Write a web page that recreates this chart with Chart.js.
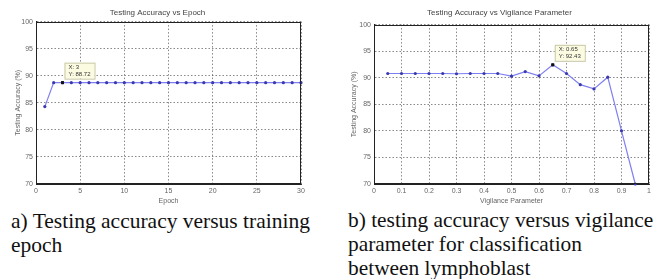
<!DOCTYPE html>
<html><head><meta charset="utf-8">
<script src="https://cdn.jsdelivr.net/npm/chart.js@4/dist/chart.umd.min.js"></script>
<style>
html,body{margin:0;padding:0;background:#fff;width:668px;height:279px;overflow:hidden;position:relative}
.c{position:absolute;top:0}
.cap{position:absolute;font-family:'Liberation Serif','DejaVu Serif',serif;line-height:24px;color:#111;white-space:nowrap}
</style></head><body>
<div class="c" style="left:0;width:334px;height:205px"><canvas id="a"></canvas></div>
<div class="c" style="left:334px;width:334px;height:205px"><canvas id="b"></canvas></div>
<div class="cap" style="left:11px;top:209px;font-size:21.5px">a) Testing accuracy versus training<br>epoch</div>
<div class="cap" style="left:348px;top:208px;font-size:21.4px">b) testing accuracy versus vigilance<br>parameter for classification<br>between lymphoblast</div>
<script>
const epochs = [1,2,3,4,5,6,7,8,9,10,11,12,13,14,15,16,17,18,19,20,21,22,23,24,25,26,27,28,29,30];
const epochAcc = [84.3,88.72,88.72,88.72,88.72,88.72,88.72,88.72,88.72,88.72,88.72,88.72,88.72,88.72,88.72,88.72,88.72,88.72,88.72,88.72,88.72,88.72,88.72,88.72,88.72,88.72,88.72,88.72,88.72,88.72];
const vigilance = [0.05,0.1,0.15,0.2,0.25,0.3,0.35,0.4,0.45,0.5,0.55,0.6,0.65,0.7,0.75,0.8,0.85,0.9,0.95];
const vigAcc = [90.8,90.8,90.8,90.8,90.8,90.75,90.8,90.8,90.8,90.3,91.15,90.35,92.43,90.8,88.7,87.9,90.1,80.0,70.0];
const yTicks = [70,75,80,85,90,95,100];
const tipA = {x:3, y:88.72, lines:["X: 3","Y: 88.72"]};
const tipB = {x:0.65, y:92.43, lines:["X: 0.65","Y: 92.43"]};

const FONT = "'Liberation Sans', Arial, sans-serif";
const gridCfg = {color:'rgba(70,70,70,0.8)', lineWidth:0.8, drawTicks:false};
const borderCfg = {display:true, color:'#222', width:1, dash:[1.5,2]};

const tipPlugin = {
  id:'tip',
  afterDatasetsDraw(chart, args, opts){
    const t = opts.tip; if(!t) return;
    const ctx = chart.ctx;
    const px = chart.scales.x.getPixelForValue(t.x);
    const py = chart.scales.y.getPixelForValue(t.y);
    ctx.save();
    ctx.fillStyle = '#111';
    ctx.fillRect(px-1.5, py-1.5, 3, 3);
    ctx.font = "6px " + FONT;
    const w = Math.max(...t.lines.map(l=>ctx.measureText(l).width)) + 8;
    const h = 16;
    const bx = px + 2, by = py - 4 - h;
    ctx.fillStyle = '#fbfbe2';
    ctx.strokeStyle = '#c8c8a8';
    ctx.lineWidth = 1;
    ctx.fillRect(bx, by, w, h);
    ctx.strokeRect(bx+0.5, by+0.5, w, h);
    ctx.fillStyle = '#333';
    ctx.textBaseline = 'middle';
    t.lines.forEach((l,i)=>ctx.fillText(l, bx+4, by+4.5+i*7));
    ctx.restore();
  }
};

function makeChart(id, xs, ys, cfg){
  return new Chart(document.getElementById(id), {
    type:'line',
    data:{datasets:[{
      data: xs.map((x,i)=>({x:x, y:ys[i]})),
      borderColor:'#7f7ff0', borderWidth:1.2,
      pointRadius:1.6, pointBackgroundColor:'#3a3ab0', pointBorderWidth:0,
      tension:0, clip:false
    }]},
    options:{
      responsive:true, maintainAspectRatio:false, animation:false,
      layout:{padding:{left:cfg.padL, right:cfg.padR, top:0, bottom:0}},
      plugins:{
        legend:{display:false}, tooltip:{enabled:false},
        title:{display:true, text:cfg.title, color:'#444', font:{family:FONT, size:8, weight:'normal'}, padding:{top:cfg.titleTop, bottom:cfg.titleBottom}},
        tip:{tip:cfg.tip}
      },
      scales:{
        x:{type:'linear', min:cfg.xmin, max:cfg.xmax,
          afterBuildTicks(s){ s.ticks = cfg.xticks.map(v=>({value:v})); },
          afterFit(s){ s.height = 21; },
          grid:{...gridCfg}, border:{...borderCfg},
          ticks:{color:'#666', font:{family:FONT, size:7}, padding:3, maxRotation:0, callback:v=>String(v)},
          title:{display:true, text:cfg.xlabel, color:'#666', font:{family:FONT, size:7}, padding:{top:0,bottom:0}}
        },
        y:{type:'linear', min:70, max:100,
          afterBuildTicks(s){ s.ticks = yTicks.map(v=>({value:v})); },
          afterFit(s){ s.width = cfg.yw; },
          grid:{...gridCfg}, border:{...borderCfg},
          ticks:{color:'#666', font:{family:FONT, size:7}, padding:3},
          title:{display:true, text:'Testing Accuracy (%)', color:'#666', font:{family:FONT, size:7}, padding:{top:0,bottom:2}}
        }
      }
    },
    plugins:[tipPlugin, {
      id:'frame',
      afterDraw(chart){
        const a = chart.chartArea, ctx = chart.ctx;
        ctx.save(); ctx.strokeStyle='#222'; ctx.lineWidth=1;
        ctx.strokeRect(Math.round(a.left)+0.5, Math.round(a.top)+0.5, Math.round(a.right-a.left)-1, Math.round(a.bottom-a.top)-1);
        ctx.restore();
      }
    }]
  });
}

makeChart('a', epochs, epochAcc, {padL:14, padR:33, yw:22, titleTop:8, titleBottom:4,
  title:'Testing Accuracy vs Epoch', xlabel:'Epoch', xmin:0, xmax:30, xticks:[0,5,10,15,20,25,30], tip:tipA});
makeChart('b', vigilance, vigAcc, {padL:16, padR:19, yw:24, titleTop:8, titleBottom:7,
  title:'Testing Accuracy vs Vigilance Parameter', xlabel:'Vigilance Parameter', xmin:0, xmax:1, xticks:[0,0.1,0.2,0.3,0.4,0.5,0.6,0.7,0.8,0.9,1], tip:tipB});
</script>
</body></html>
